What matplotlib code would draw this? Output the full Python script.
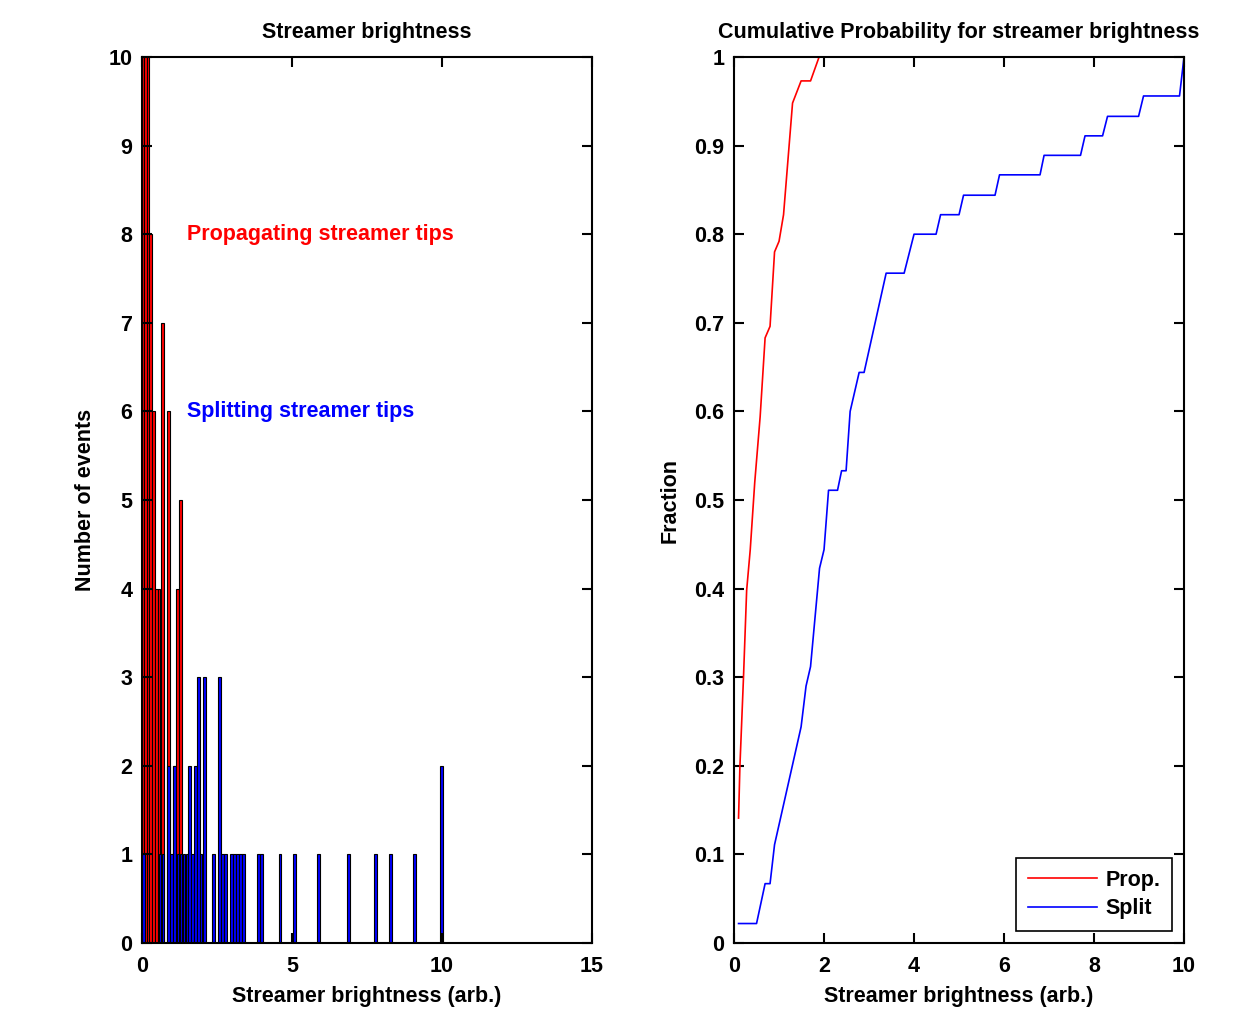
import matplotlib
matplotlib.use("Agg")
import matplotlib.pyplot as plt

# histogram bars: bin centre (arb.) and count
prop_centres = [0.03, 0.11, 0.20, 0.29, 0.38, 0.48, 0.57, 0.68, 0.88, 1.09, 1.19, 1.29]
prop_counts = [12, 12, 11, 8, 6, 4, 4, 7, 6, 2, 4, 5]

split_centres = [0.05, 0.60, 0.70, 0.89, 0.99, 1.08, 1.20, 1.30, 1.40, 1.50,
                 1.58, 1.68, 1.78, 1.89, 1.97, 2.08, 2.39, 2.58, 2.68, 2.78,
                 2.98, 3.08, 3.18, 3.28, 3.38, 3.88, 3.98, 4.60, 5.08, 5.89,
                 6.89, 7.79, 8.28, 9.09, 9.99]
split_counts = [1, 1, 1, 2, 1, 2, 1, 1, 1, 1,
                2, 1, 2, 3, 1, 3, 1, 3, 1, 1,
                1, 1, 1, 1, 1, 1, 1, 1, 1, 1,
                1, 1, 1, 1, 2]

# cumulative curves
prop_cdf_x = [0.10, 0.13, 0.21, 0.28, 0.36, 0.46, 0.58, 0.69, 0.80, 0.90,
              1.00, 1.10, 1.30, 1.49, 1.70, 1.89, 10.0]
prop_cdf_y = [0.141, 0.199, 0.300, 0.398, 0.444, 0.520, 0.594, 0.683, 0.696, 0.780,
              0.792, 0.822, 0.948, 0.973, 0.973, 1.0, 1.0]

split_cdf_x = [0.10, 0.50, 0.69, 0.80, 0.90, 1.49, 1.60, 1.70, 1.90, 2.00,
               2.10, 2.30, 2.39, 2.49, 2.58, 2.78, 2.89, 3.38, 3.78, 4.00,
               4.49, 4.59, 5.00, 5.10, 5.80, 5.90, 6.80, 6.89, 7.70, 7.80,
               8.19, 8.30, 8.99, 9.10, 9.90, 10.0]
split_cdf_y = [0.022, 0.022, 0.067, 0.067, 0.111, 0.244, 0.290, 0.312, 0.423, 0.444,
               0.511, 0.511, 0.533, 0.533, 0.600, 0.644, 0.644, 0.756, 0.756, 0.800,
               0.800, 0.822, 0.822, 0.844, 0.844, 0.867, 0.867, 0.889, 0.889, 0.911,
               0.911, 0.933, 0.933, 0.956, 0.956, 1.0]

plt.rcParams["font.family"] = ["Liberation Sans", "DejaVu Sans"]
plt.rcParams["font.size"] = 15.5
plt.rcParams["font.weight"] = "bold"

FS = 15.5
BAR_W = 0.09

fig = plt.figure(figsize=(12.52, 10.14), dpi=100)
ax1 = fig.add_axes([0.1134, 0.0700, 0.3594, 0.8738])
ax2 = fig.add_axes([0.5863, 0.0700, 0.3594, 0.8738])


def matlab_style(ax):
    for sp in ax.spines.values():
        sp.set_linewidth(1.5)
    ax.tick_params(direction="in", length=7, width=1.5, top=True, right=True,
                   labelsize=FS)
    ax.tick_params(axis="x", pad=9)
    ax.tick_params(axis="y", pad=7)


# left: histograms
ax1.bar(prop_centres, prop_counts, width=BAR_W, color="red", edgecolor="black",
        linewidth=0.8)
ax1.bar(split_centres, split_counts, width=BAR_W, color="blue", edgecolor="black",
        linewidth=0.8)
ax1.set_xlim(0, 15)
ax1.set_ylim(0, 10)
ax1.set_xticks([0, 5, 10, 15])
ax1.set_yticks(range(0, 11))
ax1.set_title("Streamer brightness", fontsize=FS, fontweight="bold", pad=14)
ax1.set_xlabel("Streamer brightness (arb.)", fontsize=FS, fontweight="bold", labelpad=7)
ax1.set_ylabel("Number of events", fontsize=FS, fontweight="bold", labelpad=9)
ax1.text(1.5, 8.0, "Propagating streamer tips", color="red", fontsize=FS,
         fontweight="bold", va="center", ha="left")
ax1.text(1.5, 6.0, "Splitting streamer tips", color="blue", fontsize=FS,
         fontweight="bold", va="center", ha="left")
matlab_style(ax1)

# right: cumulative probability
ax2.plot(prop_cdf_x, prop_cdf_y, color="red", linewidth=1.2, label="Prop.")
ax2.plot(split_cdf_x, split_cdf_y, color="blue", linewidth=1.2, label="Split")
ax2.set_xlim(0, 10)
ax2.set_ylim(0, 1)
ax2.set_xticks(range(0, 11, 2))
ax2.set_yticks([i / 10 for i in range(11)])
ax2.set_yticklabels(["0", "0.1", "0.2", "0.3", "0.4", "0.5", "0.6", "0.7",
                     "0.8", "0.9", "1"])
ax2.set_title("Cumulative Probability for streamer brightness", fontsize=FS,
              fontweight="bold", pad=14)
ax2.set_xlabel("Streamer brightness (arb.)", fontsize=FS, fontweight="bold", labelpad=7)
ax2.set_ylabel("Fraction", fontsize=FS, fontweight="bold", labelpad=10)
leg = ax2.legend(loc="lower right", fancybox=False, framealpha=1, edgecolor="black",
                 handlelength=3.2, handletextpad=0.4,
                 borderaxespad=0.55, borderpad=0.55, labelspacing=0.35,
                 prop={"weight": "bold", "size": FS})
leg.get_frame().set_linewidth(1.2)
matlab_style(ax2)

fig.savefig("out.png", dpi=100)
